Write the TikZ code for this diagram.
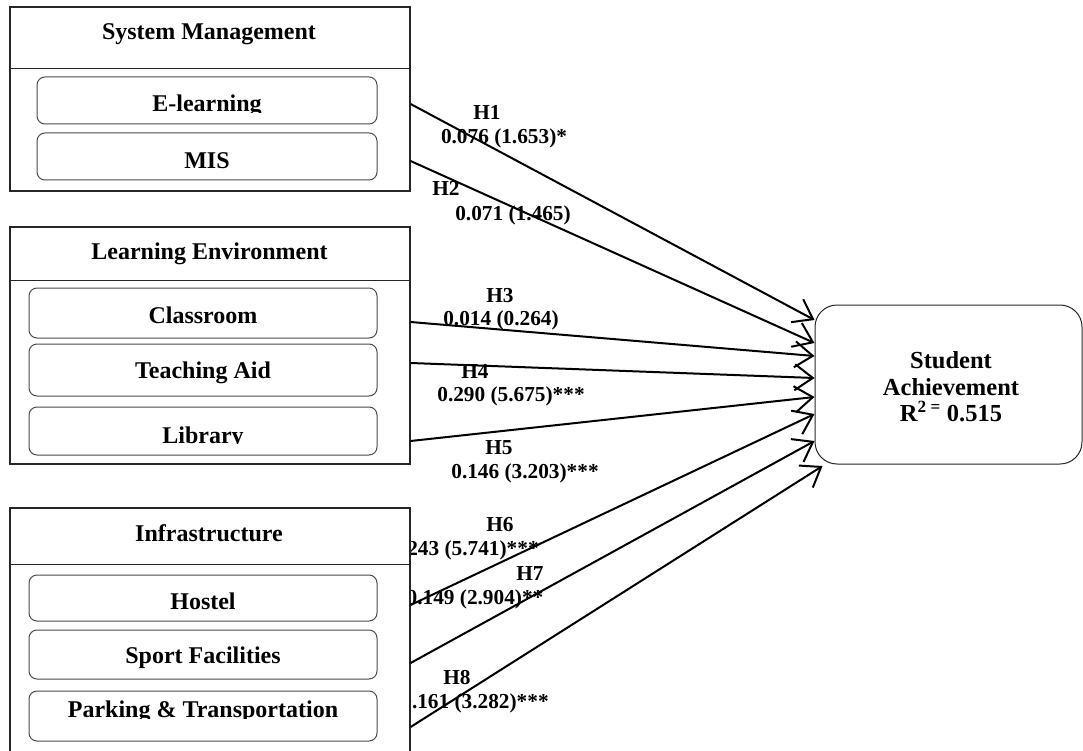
\documentclass[tikz,border=0pt]{standalone}
\usepackage{fontspec}
\setmainfont{Liberation Serif}
\usetikzlibrary{arrows.meta,calc}
\begin{document}
\begin{tikzpicture}[x=1pt,y=-1pt,
  outer/.style={draw=black!85, line width=1.2pt, fill=white, rectangle, inner sep=0pt},
  divider/.style={draw=black!85, line width=1.2pt},
  inbox/.style={draw=black!70, line width=1pt, rounded corners=8pt, rectangle, inner sep=0pt, fill=white},
  ttl/.style={font=\fontsize{24}{26}\selectfont\bfseries, anchor=base, inner sep=0pt},
  lbl/.style={font=\fontsize{21.3}{24}\selectfont\bfseries, anchor=base, inner sep=0pt},
  arr/.style={line width=2pt, -{Straight Barb[length=18pt,width=26pt]}},
]
\useasboundingbox (0,0) rectangle (1083,751);

% path labels (drawn first, partly hidden by the boxes)
\node[lbl] (h1) at (487,120) {H1};
\node[lbl] (v1) at (504,144) {0.076 (1.653)*};
\node[lbl] (h2) at (446,196) {H2};
\node[lbl] (v2) at (513,221) {0.071 (1.465)};
\node[lbl] (h3) at (500,302) {H3};
\node[lbl] (v3) at (501,325) {0.014 (0.264)};
\node[lbl] (h4) at (475,378) {H4};
\node[lbl] (v4) at (511,401) {0.290 (5.675)***};
\node[lbl] (h5) at (499,454) {H5};
\node[lbl] (v5) at (525,478) {0.146 (3.203)***};
\node[lbl] (h6) at (500,531) {H6};
\node[lbl] (v6) at (465,555) {0.243 (5.741)***};
\node[lbl] (h7) at (530,580) {H7};
\node[lbl] (v7) at (475,604) {0.149 (2.904)**};
\node[lbl] (h8) at (457,684) {H8};
\node[lbl] (v8) at (475,708) {0.161 (3.282)***};

% System Management
\node[outer, minimum width=400pt, minimum height=184pt] (sm) at (210,99) {};
\draw[divider] ($(sm.north west)+(0,62)$) -- ($(sm.north east)+(0,62)$);
\node[ttl] (smt) at (209,40) {System Management};
\node[inbox, minimum width=340pt, minimum height=47pt] (el) at (207,100.5) {};
\node[inbox, minimum width=340pt, minimum height=47pt] (mis) at (207,156.5) {};
\begin{scope}
  \clip (0,0) rectangle (1083,113);
  \node[ttl] (elt) at (207,112) {E-learning};
\end{scope}
\node[ttl] (mist) at (207,169) {MIS};

% Learning Environment
\node[outer, minimum width=400pt, minimum height=237pt] (le) at (210,345.5) {};
\draw[divider] ($(le.north west)+(0,54)$) -- ($(le.north east)+(0,54)$);
\node[ttl] (let) at (209.5,259) {Learning Environment};
\node[inbox, minimum width=348pt, minimum height=50pt] (cls) at (203,313) {};
\node[inbox, minimum width=348pt, minimum height=52pt] (ta) at (203,370) {};
\node[inbox, minimum width=348pt, minimum height=48pt] (lib) at (203,431) {};
\node[ttl] (clst) at (203,323) {Classroom};
\node[ttl] (tat) at (203,378.5) {Teaching Aid};
\begin{scope}
  \clip (0,0) rectangle (1083,443.5);
  \node[ttl] (libt) at (203,443) {Library};
\end{scope}

% Infrastructure
\node[outer, minimum width=400pt, minimum height=250pt] (inf) at (210,633) {};
\draw[divider] ($(inf.north west)+(0,57)$) -- ($(inf.north east)+(0,57)$);
\node[ttl] (inft) at (209,541.5) {Infrastructure};
\node[inbox, minimum width=348pt, minimum height=46pt] (hos) at (203,598) {};
\node[inbox, minimum width=348pt, minimum height=49pt] (spf) at (203,654.5) {};
\node[inbox, minimum width=348pt, minimum height=50pt] (pkt) at (203,716) {};
\node[ttl] (host) at (203,609.5) {Hostel};
\node[ttl] (spft) at (203,663.5) {Sport Facilities};
\begin{scope}
  \clip (0,0) rectangle (1083,718.5);
  \node[ttl] (pktt) at (203,717.5) {Parking \& Transportation};
\end{scope}

% Student Achievement
\node[draw=black!85, line width=1pt, rounded corners=22pt, minimum width=267pt,
      minimum height=159pt, inner sep=0pt] (sa) at (948.5,384.5) {};
\node[align=center, inner sep=0pt,
      font=\fontsize{24.5}{26.5}\selectfont\bfseries] (sat) at (951,387)
      {Student\\Achievement\\R\textsuperscript{2 =} 0.515};

% paths
\draw[arr] ($(el.east -| sm.east)+(0,3.5)$)   -- ($(sa.west)+(0,-64.5)$);
\draw[arr] ($(mis.east -| sm.east)+(0,4.5)$)  -- ($(sa.west)+(0,-41.5)$);
\draw[arr] ($(cls.east -| le.east)+(0,9)$)    -- ($(sa.west)+(0,-28.5)$);
\draw[arr] ($(ta.east -| le.east)+(0,-7)$)    -- ($(sa.west)+(0,-6.5)$);
\draw[arr] ($(lib.east -| le.east)+(0,10)$)   -- ($(sa.west)+(0,12.5)$);
\draw[arr] ($(hos.east -| inf.east)+(0,7)$)   -- ($(sa.west)+(0,29.5)$);
\draw[arr] ($(spf.east -| inf.east)+(0,8.5)$) -- ($(sa.west)+(0,56.5)$);
\draw[arr] ($(pkt.east -| inf.east)+(0,11)$)  -- ($(sa.west)+(8,81.5)$);
\end{tikzpicture}
\end{document}
